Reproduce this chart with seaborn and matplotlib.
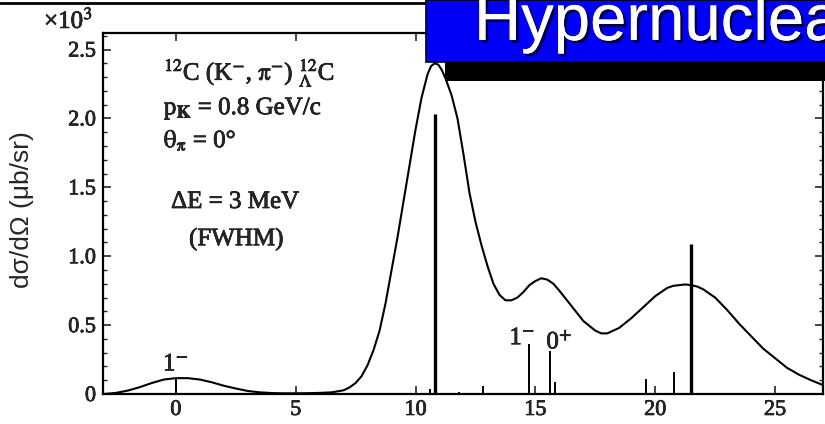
import matplotlib
matplotlib.use("Agg")
import matplotlib.pyplot as plt
import matplotlib.patheffects as pe
from matplotlib.patches import Rectangle
from matplotlib.lines import Line2D
from matplotlib.ticker import MultipleLocator
import seaborn as sns
import pandas as pd

# Folded (K-, pi-) spectrum, 3 MeV FWHM, in units of 10^3 ub/sr
energy = [-3.0, -2.5, -2.0, -1.5, -1.0, -0.5, 0.0, 0.5, 1.0, 1.5, 2.0, 2.5,
          3.0, 3.5, 4.0, 4.5, 5.0, 5.5, 6.0, 6.5, 7.0, 7.25, 7.5, 7.75, 8.0,
          8.25, 8.5, 8.75, 9.0, 9.25, 9.5, 9.75, 10.0, 10.25, 10.5, 10.65,
          10.8, 10.95, 11.1, 11.25, 11.5, 11.75, 12.0, 12.25, 12.5, 12.75,
          13.0, 13.25, 13.5, 13.75, 14.0, 14.25, 14.5, 14.75, 15.0, 15.25,
          15.5, 15.75, 16.0, 16.5, 17.0, 17.5, 17.75, 18.0, 18.5, 19.0, 19.5,
          20.0, 20.5, 20.75, 21.0, 21.25, 21.5, 21.75, 22.0, 22.5, 23.0, 23.5,
          24.0, 24.5, 25.0, 25.5, 26.0, 26.5, 27.0]
cross_section = [0.0, 0.008, 0.025, 0.05, 0.08, 0.105, 0.115, 0.115, 0.105,
                 0.085, 0.06, 0.04, 0.022, 0.012, 0.007, 0.005, 0.005, 0.006,
                 0.008, 0.012, 0.027, 0.048, 0.08, 0.13, 0.21, 0.32, 0.46,
                 0.66, 0.90, 1.14, 1.40, 1.66, 1.92, 2.15, 2.32, 2.38, 2.40,
                 2.39, 2.35, 2.29, 2.17, 2.00, 1.74, 1.46, 1.25, 1.08, 0.93,
                 0.80, 0.72, 0.68, 0.68, 0.70, 0.74, 0.79, 0.82, 0.84, 0.83,
                 0.80, 0.75, 0.64, 0.53, 0.46, 0.44, 0.44, 0.48, 0.55, 0.63,
                 0.71, 0.77, 0.785, 0.79, 0.795, 0.79, 0.78, 0.76, 0.70, 0.61,
                 0.51, 0.42, 0.33, 0.26, 0.19, 0.14, 0.10, 0.065]

# Individual level strengths (unfolded)
level_energy = [0.0, 10.6, 10.83, 11.8, 12.8, 14.75, 15.6, 15.8, 19.6, 20.8, 21.5]
level_strength = [0.11, 0.035, 2.03, 0.015, 0.06, 0.36, 0.31, 0.09, 0.11, 0.16, 1.09]

# Spin-parity labels
jp_labels = [r"1$^{-}$", r"1$^{-}$", r"0$^{+}$"]
jp_x = [0.0, 14.45, 16.0]
jp_y = [0.17, 0.36, 0.33]

x_ticks = [0, 5, 10, 15, 20, 25]
x_tick_labels = ["0", "5", "10", "15", "20", "25"]
y_ticks = [0, 0.5, 1.0, 1.5, 2.0, 2.5]
y_tick_labels = ["0", "0.5", "1.0", "1.5", "2.0", "2.5"]

sns.set_style("ticks")
plt.rcParams["font.family"] = ["Liberation Serif", "DejaVu Serif"]
plt.rcParams["mathtext.fontset"] = "stix"

# slightly heavier glyphs for the serif labels
heavy = [pe.withStroke(linewidth=0.5, foreground="black")]

W, H = 825, 424
fig = plt.figure(figsize=(W / 100, H / 100), dpi=100)
fig.patch.set_facecolor("white")
ax = fig.add_axes([103 / W, 1 - 394 / H, (823 - 103) / W, (394 - 33) / H])
ax.set_facecolor("white")

df = pd.DataFrame({"E": energy, "sigma": cross_section})
sns.lineplot(data=df, x="E", y="sigma", ax=ax, color="black", lw=1.5,
             estimator=None, sort=False, solid_joinstyle="round")

for e, s in zip(level_energy, level_strength):
    ax.vlines(e, 0, s, color="black", lw=2.4 if s > 1 else 1.4)

for t, x, y in zip(jp_labels, jp_x, jp_y):
    ax.text(x, y, t, ha="center", va="baseline", fontsize=18, path_effects=heavy)

ax.set_xlim(-3.04, 27.0)
ax.set_ylim(0, 2.62)
ax.set_xticks(x_ticks)
ax.set_xticklabels(x_tick_labels)
ax.set_yticks(y_ticks)
ax.set_yticklabels(y_tick_labels)
ax.yaxis.set_minor_locator(MultipleLocator(0.1))
ax.tick_params(axis="both", which="major", direction="in", length=6, width=1.2,
               labelsize=16, top=True, right=True, pad=5)
ax.tick_params(axis="y", which="minor", direction="in", length=3, width=1.0,
               left=True, right=True)
for lab in ax.get_xticklabels() + ax.get_yticklabels():
    lab.set_path_effects(heavy)
ax.set_xlabel("")
ax.set_ylabel("")
for sp in ax.spines.values():
    sp.set_linewidth(1.6)
    sp.set_color("black")

# Reaction details
txt = dict(fontsize=18, ha="left", va="baseline", path_effects=heavy)
ax.text(-0.5, 2.28, r"$^{12}$C (K$^{-}$, $\mathrm{\pi}^{-}$) ${}^{12}_{\Lambda}$C", **txt)
ax.text(-0.5, 2.03, r"p$_{\mathbf{K}}$ = 0.8 GeV/c", **txt)
ax.text(-0.5, 1.79, r"$\mathrm{\theta}_{\mathrm{\pi}}$ = 0°", **txt)
ax.text(-0.2, 1.35, "ΔE = 3 MeV", **txt)
ax.text(0.55, 1.08, "(FWHM)", **txt)

fig.text(22 / W, 1 - 210 / H, "dσ/dΩ (μb/sr)", rotation=90, ha="center",
         va="center", fontsize=19, family=["Liberation Sans", "DejaVu Sans"])
fig.text(44 / W, 1 - 28 / H, r"×10$^{3}$", ha="left", va="baseline", fontsize=18,
         path_effects=heavy)

# Slide frame and title banner
fig.add_artist(Line2D([0, 426 / W], [1 - 3 / H, 1 - 3 / H], color="black",
                      lw=2, transform=fig.transFigure, zorder=5))
fig.add_artist(Rectangle((445 / W, 1 - 81 / H), 1, 19 / H, facecolor="black",
                         edgecolor="none", transform=fig.transFigure, zorder=5))
fig.add_artist(Rectangle((426 / W, 1 - 62 / H), 1, 62 / H, facecolor="#0000f8",
                         edgecolor="black", lw=1.2, transform=fig.transFigure,
                         zorder=6))
fig.text(474 / W, 1 - 40 / H, "Hypernuclear", color="white", fontsize=47,
         ha="left", va="baseline", family=["Liberation Sans", "DejaVu Sans"],
         zorder=7,
         path_effects=[pe.withSimplePatchShadow(offset=(2, -2),
                                                shadow_rgbFace="black",
                                                alpha=0.7),
                       pe.Normal()])

fig.savefig("out.png", dpi=100)
